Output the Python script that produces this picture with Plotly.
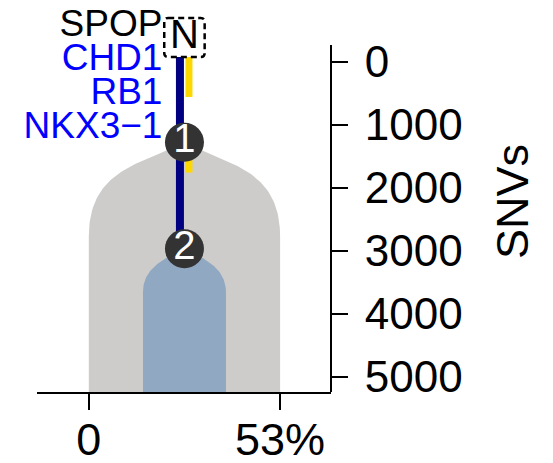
import numpy as np
import plotly.graph_objects as go

# ---- data ----
clone_labels = ["1", "2"]
clone_left = [0, 15]            # % start of each clone band
clone_ccf = [53, 23]            # % cancer cell fraction (band width)
clone_node_snvs = [1280, 2970]  # SNVs at which each clone starts

root_label = "N"
root_snvs = -384
branch_start = -75              # trunk starts just under the root box
snv_branch_end = 2970           # navy branch runs down to node 2
cna_start = [-75, 1280]         # yellow segments
cna_end = [560, 1760]

genes = ["SPOP", "CHD1", "RB1", "NKX3\u22121"]
gene_kind = ["mut", "del", "del", "del"]

x_ticks = [0, 53]
x_ticktext = ["0", "53%"]
y_ticks = [0, 1000, 2000, 3000, 4000, 5000]

# ---- styling ----
FONT = "Liberation Sans"
clone_colors = ["#cdcccb", "#91a8c2"]
# bezier drops (SNVs below the node) for the dome of each clone
clone_dome = [(358, 437, 1500), (146, 304, 684)]
kind_colors = {"mut": "black", "del": "#0000ff"}

W, H = 553, 463
M = dict(l=37, r=222, t=11, b=71)
x_range = [-14.35, 67.1]
axis_top, y_bottom = -265, 5243     # visible extent of the SNV axis line
px_per_snv = 347 / (y_bottom - axis_top)
plot_h = H - M["t"] - M["b"]
y_range = [y_bottom, y_bottom - plot_h / px_per_snv]

center = clone_left[0] + clone_ccf[0] / 2

fig = go.Figure()

t = np.linspace(0, 1, 60)
for i in range(len(clone_labels)):
    left = clone_left[i]
    w = clone_ccf[i]
    c = left + w / 2
    y0 = clone_node_snvs[i]
    d1, d2, d3 = clone_dome[i]
    px = [c, c - 0.47 * w / 2, left, left]
    py = [y0, y0 + d1, y0 + d2, y0 + d3]
    bx = (1 - t) ** 3 * px[0] + 3 * (1 - t) ** 2 * t * px[1] + 3 * (1 - t) * t ** 2 * px[2] + t ** 3 * px[3]
    by = (1 - t) ** 3 * py[0] + 3 * (1 - t) ** 2 * t * py[1] + 3 * (1 - t) * t ** 2 * py[2] + t ** 3 * py[3]
    xs = list(2 * c - bx) + [left + w, left] + list(bx[::-1])
    ys = list(by) + [y_bottom, y_bottom] + list(by[::-1])
    fig.add_trace(go.Scatter(x=xs, y=ys, mode="lines", fill="toself",
                             fillcolor=clone_colors[i], line=dict(width=0),
                             hoverinfo="skip"))

# navy SNV branch
fig.add_trace(go.Scatter(x=[center - 1.25] * 2, y=[branch_start, snv_branch_end],
                         mode="lines", line=dict(color="#000080", width=8),
                         hoverinfo="skip"))

# yellow segments
yx, yy = [], []
for s, e in zip(cna_start, cna_end):
    yx += [center + 1.25, center + 1.25, None]
    yy += [s, e, None]
fig.add_trace(go.Scatter(x=yx, y=yy, mode="lines",
                         line=dict(color="#ffd700", width=7), hoverinfo="skip"))

# clone nodes
fig.add_trace(go.Scatter(x=[center] * len(clone_labels), y=clone_node_snvs,
                         mode="markers+text", text=clone_labels,
                         textposition="middle center",
                         textfont=dict(family=FONT, size=40, color="white"),
                         marker=dict(size=39, color="#333333"),
                         hoverinfo="skip", cliponaxis=False))

# root node
fig.add_trace(go.Scatter(x=[center], y=[root_snvs], mode="text", text=[root_label],
                         textposition="middle center",
                         textfont=dict(family=FONT, size=40, color="black"),
                         hoverinfo="skip", cliponaxis=False))
hx, hy = 5.6, 310
rx, ry = 1.1, 63
x0, x1 = center - hx, center + hx
ya, yb = root_snvs - hy, root_snvs + hy
box = (f"M {x0 + rx},{ya} L {x1 - rx},{ya} Q {x1},{ya} {x1},{ya + ry} "
       f"L {x1},{yb - ry} Q {x1},{yb} {x1 - rx},{yb} L {x0 + rx},{yb} "
       f"Q {x0},{yb} {x0},{yb - ry} L {x0},{ya + ry} Q {x0},{ya} {x0 + rx},{ya} Z")
fig.add_shape(type="path", path=box, xref="x", yref="y",
              line=dict(color="black", width=2.5, dash="6px,4px"))

# gene labels stacked beside the trunk
gene_top, gene_step = -550, 540
fig.add_trace(go.Scatter(x=[20.4] * len(genes),
                         y=[gene_top + k * gene_step for k in range(len(genes))],
                         mode="text", text=genes, textposition="middle left",
                         textfont=dict(family=FONT, size=37,
                                       color=[kind_colors[k] for k in gene_kind]),
                         hoverinfo="skip", cliponaxis=False))

# right-hand SNV axis line, only over the labelled span
fig.add_shape(type="line", xref="paper", yref="y", x0=1, x1=1,
              y0=axis_top, y1=y_bottom, line=dict(color="black", width=2))

fig.update_layout(
    width=W, height=H,
    margin=M,
    plot_bgcolor="white", paper_bgcolor="white",
    showlegend=False,
    font=dict(family=FONT, color="black"),
    xaxis=dict(range=x_range, tickvals=x_ticks, ticktext=x_ticktext,
               showline=True, linecolor="black", linewidth=2,
               ticks="outside", ticklen=16, tickwidth=2, tickcolor="black",
               showgrid=False, zeroline=False, automargin=False,
               tickfont=dict(size=45), ticklabelstandoff=-9),
    yaxis=dict(range=y_range, side="right", tickvals=y_ticks,
               showline=False,
               ticks="outside", ticklen=16, tickwidth=2, tickcolor="black",
               showgrid=False, zeroline=False, automargin=False,
               tickfont=dict(size=44), ticklabelstandoff=8,
               title=dict(text="SNVs", font=dict(size=45), standoff=34)),
)

fig.write_html("out.html", config={"displayModeBar": False},
               post_script="document.body.style.margin='0';")
